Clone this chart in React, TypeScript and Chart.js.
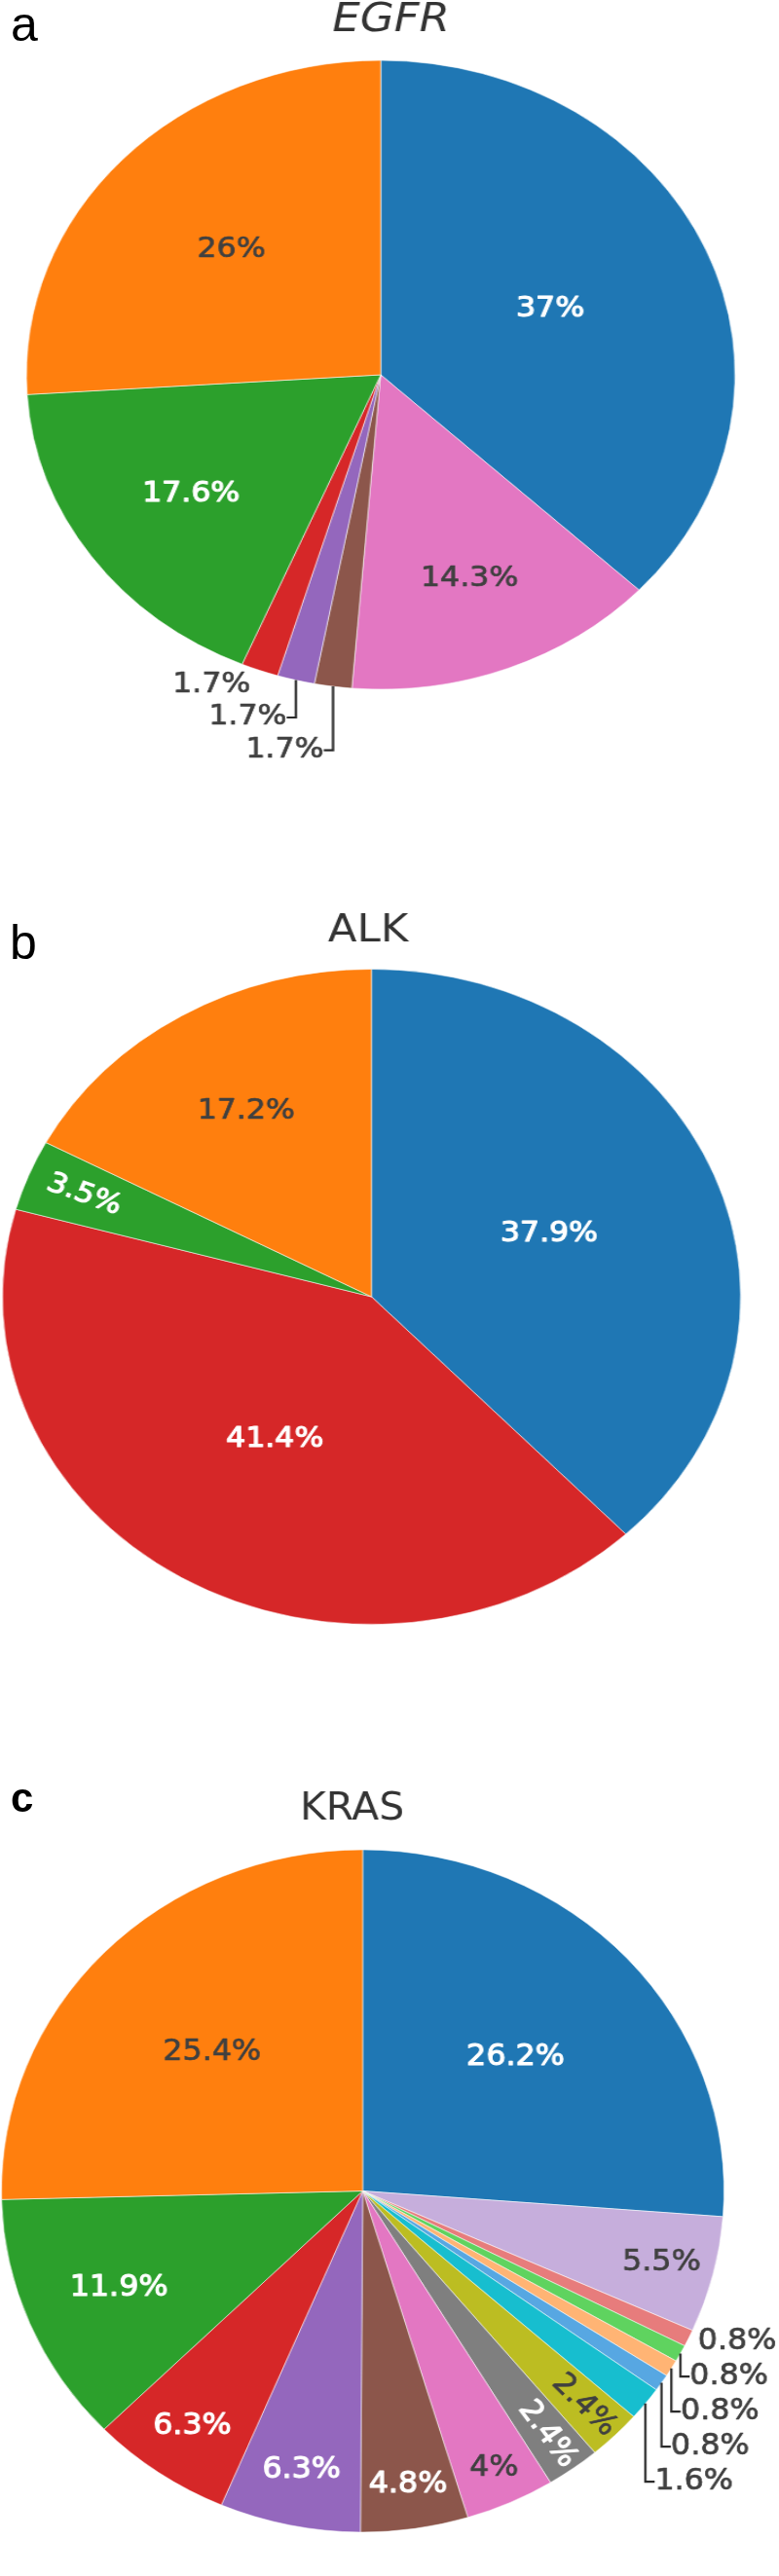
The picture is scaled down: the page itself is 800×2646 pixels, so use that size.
import React, { useEffect, useRef } from 'react';
import { Chart, registerables } from 'chart.js';

Chart.register(...registerables);

// ---------- colours (plotly category10 + its lightened extension) ----------
const BLUE = '#1f77b4';
const ORANGE = '#ff7f0e';
const GREEN = '#2ca02c';
const RED = '#d62728';
const PURPLE = '#9467bd';
const BROWN = '#8c564b';
const PINK = '#e377c2';
const GRAY = '#7f7f7f';
const OLIVE = '#bcbd22';
const CYAN = '#17becf';
const LIGHT_BLUE = '#57a7e2';
const LIGHT_ORANGE = '#ffb474';
const LIGHT_GREEN = '#5fd35f';
const LIGHT_RED = '#e77c7c';
const LAVENDER = '#c6aedc';

// ---------- data (slices listed clockwise from 12 o'clock) ----------
const egfrCategories = ['Group 1', 'Group 7', 'Group 6', 'Group 5', 'Group 4', 'Group 3', 'Group 2'];
const egfrValues = [37, 14.3, 1.7, 1.7, 1.7, 17.6, 26];
const egfrColors = [BLUE, PINK, BROWN, PURPLE, RED, GREEN, ORANGE];

const alkCategories = ['Group 1', 'Group 4', 'Group 3', 'Group 2'];
const alkValues = [37.9, 41.4, 3.5, 17.2];
const alkColors = [BLUE, RED, GREEN, ORANGE];

const krasCategories = [
  'Group 1', 'Group 15', 'Group 14', 'Group 13', 'Group 12', 'Group 11', 'Group 10',
  'Group 9', 'Group 8', 'Group 7', 'Group 6', 'Group 5', 'Group 4', 'Group 3', 'Group 2',
];
const krasValues = [26.2, 5.5, 0.8, 0.8, 0.8, 0.8, 1.6, 2.4, 2.4, 4, 4.8, 6.3, 6.3, 11.9, 25.4];
const krasColors = [
  BLUE, LAVENDER, LIGHT_RED, LIGHT_GREEN, LIGHT_ORANGE, LIGHT_BLUE, CYAN,
  OLIVE, GRAY, PINK, BROWN, PURPLE, RED, GREEN, ORANGE,
];

// ---------- layout (page coordinates) ----------
const layoutA = { top: 0, height: 800, sx: 1.1265, cx: 391, cy: 385, r: 323, titleX: 401.5, titleBase: 32, titleSize: 40, italic: true, fontSize: 28 };
const layoutB = { top: 900, height: 780, sx: 1.1263, cx: 381.5, cy: 1332, r: 336.5, titleX: 378, titleBase: 967, titleSize: 38.5, italic: false, fontSize: 28 };
const layoutC = { top: 1800, height: 846, sx: 1.0585, cx: 372.5, cy: 2250.5, r: 350.5, titleX: 361.5, titleBase: 1869, titleSize: 38.5, italic: false, fontSize: 30 };

const LABEL_FONT = '"DejaVu Sans", Verdana, sans-serif';
const DARK_TEXT = '#404040';

function fmtPct(v: number): string {
  let s = v.toPrecision(3);
  if (s.indexOf('.') !== -1) s = s.replace(/\.?0+$/, '');
  return s + '%';
}

function textColorFor(hex: string): string {
  const h = hex.replace('#', '');
  const r = parseInt(h.slice(0, 2), 16);
  const g = parseInt(h.slice(2, 4), 16);
  const b = parseInt(h.slice(4, 6), 16);
  const brightness = (r * 299 + g * 587 + b * 114) / 1000;
  return brightness < 128 ? '#ffffff' : DARK_TEXT;
}

function drawLabel(ctx: CanvasRenderingContext2D, text: string, x: number, y: number, rot: number, col: string) {
  ctx.save();
  ctx.translate(x, y);
  if (rot) ctx.rotate(rot);
  ctx.fillStyle = col;
  ctx.fillText(text, 0, 0);
  ctx.lineWidth = col === '#ffffff' ? 1.1 : 0.7;
  ctx.strokeStyle = col;
  ctx.lineJoin = 'round';
  ctx.strokeText(text, 0, 0);
  ctx.restore();
}

// plotly-like text placement for pie slices
const pieTextPlugin = {
  id: 'pieText',
  afterDatasetsDraw(chart: any, _args: any, opts: any) {
    const ctx: CanvasRenderingContext2D = chart.ctx;
    const meta = chart.getDatasetMeta(0);
    const ds = chart.data.datasets[0];
    const values: number[] = ds.data;
    const colors: string[] = ds.backgroundColor;
    const total = values.reduce((a, b) => a + b, 0);
    const fs: number = opts.fontSize;
    const h = fs * 1.2;

    ctx.save();
    // title
    ctx.font = `${opts.italic ? 'italic ' : ''}${opts.titleSize}px ${LABEL_FONT}`;
    ctx.fillStyle = '#333333';
    ctx.textAlign = 'center';
    ctx.textBaseline = 'alphabetic';
    ctx.fillText(opts.title, opts.titleX, opts.titleY);

    ctx.font = `${fs}px ${LABEL_FONT}`;
    ctx.textAlign = 'center';
    ctx.textBaseline = 'middle';
    const outside: any[] = [];

    meta.data.forEach((arc: any, i: number) => {
      const { x, y, startAngle, endAngle, outerRadius: r } = arc;
      const text = fmtPct((values[i] / total) * 100);
      const w = ctx.measureText(text).width;
      const half = (endAngle - startAngle) / 2;
      const mid = (startAngle + endAngle) / 2;
      const col = textColorFor(colors[i]);
      const rIns = Math.min(1 / (1 + 1 / Math.sin(half)), 0.5);
      const scaleH = (2 * r * rIns) / Math.hypot(w, h);
      if (scaleH >= 1) {
        const rc = (1 - rIns) * r;
        drawLabel(ctx, text, x + rc * Math.cos(mid), y + rc * Math.sin(mid), 0, col);
        return;
      }
      const a = w / h;
      const cot = 1 / Math.tan(half);
      const s = r / Math.sqrt((2 * a + cot) * (2 * a + cot) + 1);
      if ((2 * s) / h >= 1) {
        const rc = s * (a + cot);
        let rot = mid;
        while (rot > Math.PI / 2) rot -= Math.PI;
        while (rot <= -Math.PI / 2) rot += Math.PI;
        drawLabel(ctx, text, x + rc * Math.cos(mid), y + rc * Math.sin(mid), rot, col);
        return;
      }
      const px = r * Math.cos(mid);
      const py = r * Math.sin(mid);
      const sgx = px < 0 ? -1 : 1;
      const sgy = py < 0 ? -1 : 1;
      const dy = (sgy * h) / 2;
      outside.push({
        text, w, px, py, sgx, sgy, cx: x, cy: y,
        lx: px + (sgx * w) / 2 + (sgx * h) / 4,
        ly: py + dy / (1 + (px * px) / (py * py)),
        moved: false,
      });
    });

    for (const side of [-1, 1]) {
      for (const vert of [-1, 1]) {
        const group = outside
          .filter((o) => o.sgx === side && o.sgy === vert)
          .sort((p, q) => Math.abs(p.py) - Math.abs(q.py));
        const placed: any[] = [];
        for (const o of group) {
          for (const p of placed) {
            if (Math.abs(o.lx - p.lx) < (o.w + p.w) / 2) {
              if (vert > 0 && o.ly - h / 2 < p.ly + h / 2) { o.ly = p.ly + h; o.moved = true; }
              if (vert < 0 && o.ly + h / 2 > p.ly - h / 2) { o.ly = p.ly - h; o.moved = true; }
            }
          }
          placed.push(o);
        }
      }
    }

    ctx.strokeStyle = '#2a2a2a';
    ctx.lineWidth = opts.lineWidth;
    for (const o of outside) {
      if (o.moved) {
        ctx.beginPath();
        ctx.moveTo(o.cx + o.px, o.cy + o.py);
        ctx.lineTo(o.cx + o.px, o.cy + o.ly);
        ctx.lineTo(o.cx + o.px + (o.sgx * h) / 4, o.cy + o.ly);
        ctx.strokeStyle = '#2a2a2a';
        ctx.lineWidth = opts.lineWidth;
        ctx.stroke();
      }
      drawLabel(ctx, o.text, o.cx + o.lx, o.cy + o.ly, 0, DARK_TEXT);
    }
    ctx.restore();
  },
};

type Layout = typeof layoutA;

function PiePanel(props: { layout: Layout; title: string; categories: string[]; values: number[]; colors: string[] }) {
  const { layout, title, categories, values, colors } = props;
  const ref = useRef<HTMLCanvasElement>(null);
  const W = Math.ceil(800 / layout.sx);
  const H = layout.height;

  useEffect(() => {
    const cxu = layout.cx / layout.sx;
    const cyu = layout.cy - layout.top;
    const s = Math.min(cxu, W - cxu, cyu, H - cyu);
    const chart = new Chart(ref.current as HTMLCanvasElement, {
      type: 'pie',
      data: {
        labels: categories,
        datasets: [
          {
            data: values,
            backgroundColor: colors,
            borderColor: 'rgba(255,255,255,0.55)',
            borderWidth: 1,
          },
        ],
      },
      options: {
        responsive: false,
        animation: false,
        events: [],
        radius: layout.r,
        layout: {
          padding: { left: cxu - s, right: W - cxu - s, top: cyu - s, bottom: H - cyu - s },
        },
        plugins: {
          legend: { display: false },
          tooltip: { enabled: false },
          // @ts-ignore
          pieText: {
            fontSize: layout.fontSize,
            lineWidth: 2.2,
            title,
            italic: layout.italic,
            titleSize: layout.titleSize,
            titleX: layout.titleX / layout.sx,
            titleY: layout.titleBase - layout.top,
          },
        },
      } as any,
      plugins: [pieTextPlugin as any],
    });
    return () => chart.destroy();
  }, []);

  return (
    <div
      style={{
        position: 'absolute',
        left: 0,
        top: layout.top,
        width: W,
        height: H,
        transform: `scaleX(${layout.sx})`,
        transformOrigin: '0 0',
      }}
    >
      <canvas ref={ref} width={W} height={H} />
    </div>
  );
}

function PanelLetter(props: { text: string; left: number; baseline: number; size: number; bold?: boolean }) {
  const { text, left, baseline, size, bold } = props;
  return (
    <div
      style={{
        position: 'absolute',
        left,
        top: baseline - 0.8465 * size,
        fontFamily: '"Liberation Sans", Arial, sans-serif',
        fontSize: size,
        lineHeight: `${size}px`,
        fontWeight: bold ? 700 : 400,
        color: '#000',
        margin: 0,
      }}
    >
      {text}
    </div>
  );
}

export default function App() {
  return (
    <div style={{ position: 'absolute', left: 0, top: 0, width: 800, height: 2646, background: '#ffffff', overflow: 'hidden' }}>
      <PiePanel layout={layoutA} title="EGFR" categories={egfrCategories} values={egfrValues} colors={egfrColors} />
      <PiePanel layout={layoutB} title="ALK" categories={alkCategories} values={alkValues} colors={alkColors} />
      <PiePanel layout={layoutC} title="KRAS" categories={krasCategories} values={krasValues} colors={krasColors} />
      <PanelLetter text="a" left={11} baseline={42} size={50} />
      <PanelLetter text="b" left={10} baseline={985} size={50} />
      <PanelLetter text="c" left={11} baseline={1862} size={42} bold />
    </div>
  );
}
